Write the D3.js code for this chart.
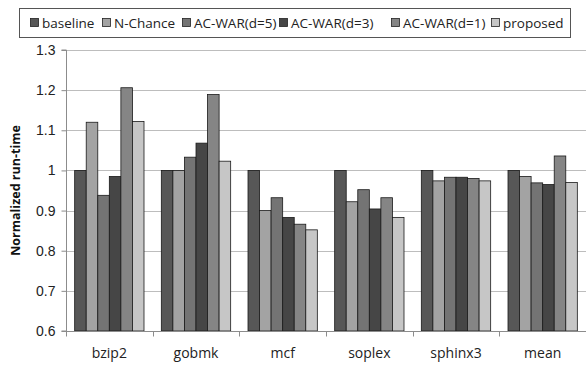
<!DOCTYPE html>
<html>
<head>
<meta charset="utf-8">
<script src="https://cdn.jsdelivr.net/npm/d3@7"></script>
<style>
  body { margin: 0; background: #fff; }
  svg { display: block; font-family: "Open Sans", "Liberation Sans", sans-serif; }
</style>
</head>
<body>
<svg id="chart" width="587" height="365"></svg>
<script>
const categories = ['bzip2', 'gobmk', 'mcf', 'soplex', 'sphinx3', 'mean'];
const seriesNames = ['baseline', 'N-Chance', 'AC-WAR(d=5)', 'AC-WAR(d=3)', 'AC-WAR(d=1)', 'proposed'];
const seriesColors = ['#575757', '#a3a3a3', '#747474', '#464646', '#858585', '#c6c6c6'];

const baseline = [1.0, 1.0, 1.0, 1.0, 1.0, 1.0];
const nChance = [1.12, 1.0, 0.9, 0.922, 0.974, 0.985];
const acWar5 = [0.938, 1.033, 0.932, 0.952, 0.983, 0.969];
const acWar3 = [0.985, 1.068, 0.883, 0.904, 0.983, 0.965];
const acWar1 = [1.206, 1.189, 0.866, 0.932, 0.980, 1.036];
const proposed = [1.122, 1.023, 0.852, 0.883, 0.974, 0.970];

const yTicks = [0.6, 0.7, 0.8, 0.9, 1, 1.1, 1.2, 1.3];

const seriesValues = [baseline, nChance, acWar5, acWar3, acWar1, proposed];

const svg = d3.select('#chart');
const margin = { left: 66, right: 1, top: 50, bottom: 34 };
const width = 587, height = 365;

// one slot per category, bars inset within
const slot = d3.scaleBand().domain(categories).range([margin.left, width - margin.right]);
const inner = d3.scaleBand()
  .domain(seriesNames)
  .range([0, slot.bandwidth()])
  .paddingOuter(0.75)
  .paddingInner(0);

const y = d3.scaleLinear()
  .domain([0.6, 1.3])
  .range([height - margin.bottom, margin.top]);

// gridlines
svg.append('g')
  .selectAll('line')
  .data(yTicks.slice(1))
  .join('line')
  .attr('x1', margin.left)
  .attr('x2', width - margin.right)
  .attr('y1', d => Math.round(y(d)) + 0.5)
  .attr('y2', d => Math.round(y(d)) + 0.5)
  .attr('stroke', '#bdbdbd')
  .attr('stroke-width', 1);

// bars
const groups = svg.append('g')
  .selectAll('g')
  .data(categories)
  .join('g')
  .attr('transform', d => `translate(${slot(d)},0)`);

groups.selectAll('rect')
  .data((c, i) => seriesNames.map((s, j) => ({ s, j, v: seriesValues[j][i] })))
  .join('rect')
  .attr('x', d => inner(d.s))
  .attr('width', inner.bandwidth())
  .attr('y', d => y(d.v))
  .attr('height', d => y(0.6) - y(d.v))
  .attr('fill', d => seriesColors[d.j])
  .attr('stroke', '#1a1a1a')
  .attr('stroke-width', 0.8);

// y axis
const yAxis = d3.axisLeft(y)
  .tickValues(yTicks)
  .tickSize(5)
  .tickPadding(6)
  .tickFormat(d => d3.format('.1~f')(d));

svg.append('g')
  .attr('transform', `translate(${margin.left + 0.5},0)`)
  .call(yAxis)
  .call(g => g.select('.domain').attr('stroke', '#8c8c8c').attr('d', `M-5,${y(1.3)}H0V${y(0.6)}H-5`))
  .call(g => g.selectAll('.tick line').attr('stroke', '#8c8c8c'))
  .call(g => g.selectAll('.tick text').attr('font-size', 14).attr('fill', '#222'));

// x axis
const xAxis = svg.append('g')
  .attr('transform', `translate(0,${Math.round(y(0.6)) + 0.5})`);
xAxis.append('line')
  .attr('x1', margin.left)
  .attr('x2', width - margin.right)
  .attr('stroke', '#8c8c8c');
xAxis.selectAll('line.tk')
  .data(categories)
  .join('line')
  .attr('class', 'tk')
  .attr('x1', d => Math.round(slot(d)) + 0.5)
  .attr('x2', d => Math.round(slot(d)) + 0.5)
  .attr('y1', 0)
  .attr('y2', 5)
  .attr('stroke', '#8c8c8c');
xAxis.selectAll('text')
  .data(categories)
  .join('text')
  .attr('x', d => slot(d) + slot.bandwidth() / 2)
  .attr('y', 26)
  .attr('text-anchor', 'middle')
  .attr('font-size', 14)
  .attr('fill', '#222')
  .text(d => d);

// y title
svg.append('text')
  .attr('transform', `translate(20,${(y(0.6) + y(1.3)) / 2}) rotate(-90)`)
  .attr('text-anchor', 'middle')
  .attr('font-size', 12.5)
  .attr('font-weight', 'bold')
  .attr('fill', '#111')
  .text('Normalized run-time');

// legend
const legend = svg.append('g');
legend.append('rect')
  .attr('x', 19.5)
  .attr('y', 8.5)
  .attr('width', 551)
  .attr('height', 29)
  .attr('fill', '#fff')
  .attr('stroke', '#555');

const legendX = [30, 102, 182, 279, 391, 491];
const items = legend.selectAll('g.item')
  .data(seriesNames)
  .join('g')
  .attr('class', 'item')
  .attr('transform', (d, i) => `translate(${legendX[i]},23)`);
items.append('rect')
  .attr('x', 0.5)
  .attr('y', -4.5)
  .attr('width', 8)
  .attr('height', 8)
  .attr('fill', (d, i) => seriesColors[i])
  .attr('stroke', '#222')
  .attr('stroke-width', 0.8);
items.append('text')
  .attr('x', 12)
  .attr('y', 5)
  .attr('font-size', 13.5)
  .attr('fill', '#222')
  .text(d => d);
</script>
</body>
</html>
